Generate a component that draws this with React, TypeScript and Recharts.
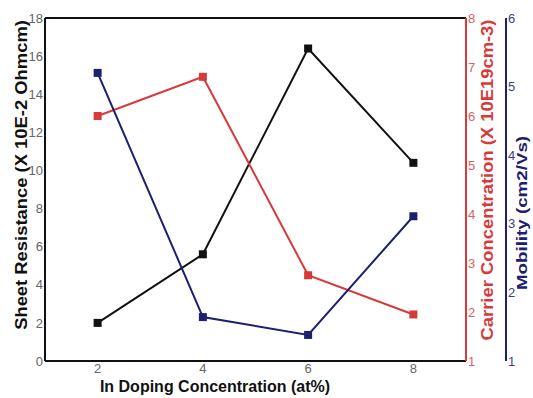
import React from 'react';
import { LineChart, Line, XAxis, YAxis, ReferenceLine } from 'recharts';

// In doping concentration (at%)
const dopingLevels = [2, 4, 6, 8];
// Sheet resistance (x 10E-2 Ohm cm)
const sheetResistance = [2.0, 5.6, 16.4, 10.4];
// Carrier concentration (x 10E19 cm-3)
const carrierConcentration = [6.0, 6.8, 2.75, 1.95];
// Mobility (cm2/Vs)
const mobility = [5.2, 1.64, 1.38, 3.11];

const leftTicks = [0, 2, 4, 6, 8, 10, 12, 14, 16, 18];
const carrierTicks = [1, 2, 3, 4, 5, 6, 7, 8];
const mobilityTicks = [1, 2, 3, 4, 5, 6];

const data = dopingLevels.map((x, i) => ({
    x,
    rs: sheetResistance[i],
    cc: carrierConcentration[i],
    mu: mobility[i],
}));

const BLACK = '#111111';
const RED = '#d8393a';
const NAVY = '#1c206e';
const FONT = '"Liberation Sans", Arial, sans-serif';

const square = (color: string) => (props: any) => {
    const { cx, cy, index } = props;
    if (cx == null || cy == null) return <g key={index} />;
    return <rect key={index} x={cx - 4} y={cy - 4} width={8} height={8} fill={color} />;
};

// the reference image is stretched vertically, so rotated titles run longer than they are thick
const sideLabel = (text: string, color: string, cx: number, cy: number, size: number, stretch: number) => () => (
    <text x={0} y={0} transform={`translate(${cx}, ${cy}) rotate(-90) scale(${stretch}, 1)`} textAnchor="middle"
        dominantBaseline="central" fill={color} fontSize={size} fontWeight="bold" fontFamily={FONT}>
        {text}
    </text>
);

const bottomLabel = () => (
    <text x={215} y={386} textAnchor="middle" dominantBaseline="central"
        fill={BLACK} fontSize={16} fontWeight="bold" fontFamily={FONT}>
        In Doping Concentration (at%)
    </text>
);

export default function App() {
    // pinned to the page corner so the body margin does not push it past the window
    return (
        <div style={{ position: 'absolute', left: 0, top: 0, width: 533, height: 398, background: '#fff' }}>
            <LineChart width={533} height={398} data={data} margin={{ top: 18, right: 0, bottom: 0, left: 0 }}
                style={{ fontFamily: FONT }}>
                <XAxis dataKey="x" type="number" domain={[1, 9]} ticks={dopingLevels} height={37}
                    axisLine={{ stroke: BLACK, strokeWidth: 2 }} tickLine={false} tickSize={0} tickMargin={3}
                    tick={{ fill: '#666', fontSize: 13 }} label={bottomLabel} />
                <YAxis yAxisId="left" orientation="left" domain={[0, 18]} ticks={leftTicks} width={45}
                    axisLine={{ stroke: BLACK, strokeWidth: 2 }} tickLine={false} tickSize={0} tickMargin={2}
                    tick={{ fill: '#666', fontSize: 13 }}
                    label={sideLabel('Sheet Resistance (X 10E-2 Ohmcm)', BLACK, 21, 175, 16, 1.15)} />
                <YAxis yAxisId="cc" orientation="right" domain={[1, 8]} ticks={carrierTicks} width={40}
                    axisLine={{ stroke: RED, strokeWidth: 2 }} tickLine={false} tickSize={0} tickMargin={2}
                    tick={{ fill: '#e06060', fontSize: 13 }}
                    label={sideLabel('Carrier Concentration (X 10E19cm-3)', RED, 487, 180, 16, 1.15)} />
                <YAxis yAxisId="mu" orientation="right" domain={[1, 6]} ticks={mobilityTicks} width={27}
                    axisLine={{ stroke: NAVY, strokeWidth: 2 }} tickLine={false} tickSize={0} tickMargin={2}
                    tick={{ fill: '#3a3f85', fontSize: 13 }}
                    label={sideLabel('Mobility (cm2/Vs)', NAVY, 522, 213, 15, 1.25)} />
                <ReferenceLine yAxisId="left" y={18} stroke={BLACK} strokeWidth={2} />
                <Line yAxisId="left" dataKey="rs" stroke={BLACK} strokeWidth={2} dot={square(BLACK)}
                    activeDot={false} isAnimationActive={false} />
                <Line yAxisId="cc" dataKey="cc" stroke={RED} strokeWidth={2} dot={square(RED)}
                    activeDot={false} isAnimationActive={false} />
                <Line yAxisId="mu" dataKey="mu" stroke={NAVY} strokeWidth={2} dot={square(NAVY)}
                    activeDot={false} isAnimationActive={false} />
            </LineChart>
        </div>
    );
}
